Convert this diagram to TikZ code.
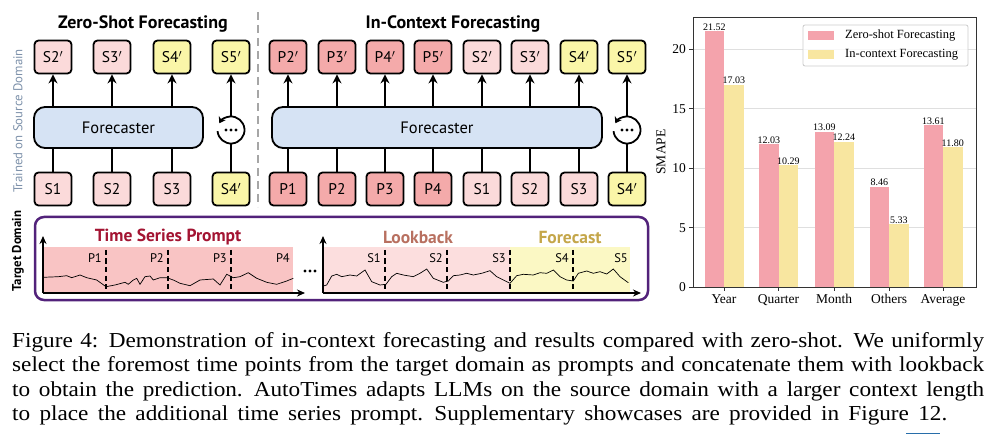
\documentclass[tikz,border=0pt]{standalone}
\usepackage{fontspec}
\setmainfont{Liberation Serif}
\newfontfamily\myr{PT Sans}
\newfontfamily\capfont{Liberation Serif}[FakeStretch=1.09, WordSpace=1.6]
\usetikzlibrary{arrows.meta,calc}
\definecolor{pdark}{RGB}{244,170,170}
\definecolor{plight}{RGB}{251,218,218}
\definecolor{yel}{RGB}{250,246,168}
\definecolor{fblue}{RGB}{214,227,244}
\definecolor{regpink}{RGB}{249,196,196}
\definecolor{reglight}{RGB}{252,222,222}
\definecolor{regyel}{RGB}{251,248,196}
\definecolor{tsred}{RGB}{163,20,50}
\definecolor{lbbrown}{RGB}{184,112,96}
\definecolor{fcgold}{RGB}{196,166,74}
\definecolor{purp}{RGB}{82,34,122}
\definecolor{srcgray}{RGB}{125,145,170}
\definecolor{barpink}{RGB}{244,163,172}
\definecolor{baryel}{RGB}{248,230,160}
\definecolor{linkblue}{RGB}{40,110,170}
\tikzset{
  bx/.style={draw=black, line width=1.8, rounded corners=4, minimum width=37, minimum height=33, inner sep=0, font=\myr\fontsize{15.5}{15.5}\selectfont},
  fc/.style={draw=black, line width=1.8, rounded corners=11, fill=fblue, minimum height=41, inner sep=0, font=\myr\fontsize{16.5}{16.5}\selectfont},
  arr/.style={line width=1.8, -{Stealth[length=9,width=9]}},
  ln/.style={line width=1.8},
  ttl/.style={font=\myr\bfseries\fontsize{18}{18}\selectfont},
  lbl/.style={font=\myr\fontsize{12.5}{12.5}\selectfont, anchor=east, inner sep=0},
  ax/.style={line width=1.8, -{Stealth[length=8,width=7]}},
  dsh/.style={line width=1.3, dash pattern=on 5 off 3.5},
  crv/.style={line width=0.7},
  capline/.style={anchor=base west, inner sep=0, font=\capfont\fontsize{21.3}{24.5}\selectfont},
  tk/.style={font=\fontsize{13.5}{13.5}\selectfont, inner sep=0},
  val/.style={font=\fontsize{10}{10}\selectfont, inner sep=0, anchor=south},
  dot/.style={circle, fill=black, inner sep=0, minimum size=3.2},
}
\begin{document}
\begin{tikzpicture}[x=1pt,y=-1pt]
\useasboundingbox (0,0) rectangle (987,446);
% ---------- titles ----------
\node[ttl] (t1) at (143,24) {Zero-Shot Forecasting};
\node[ttl] (t2) at (453,24) {In-Context Forecasting};
\coordinate (sepA) at (258,12);
\coordinate (sepB) at (258,207);
\draw[line width=2, gray!70, dash pattern=on 8 off 5] (sepA) -- (sepB);
\node[rotate=90, text=srcgray, font=\myr\fontsize{12.8}{12.8}\selectfont] (src) at (18,121) {Trained on Source Domain};
\node[rotate=90, font=\myr\bfseries\fontsize{12.8}{12.8}\selectfont] (tgt) at (18,251) {Target Domain};
% ---------- zero-shot ----------
\node[bx, fill=plight] (zo1) at (53,57) {S2$'$};
\node[bx, fill=plight] (zo2) at (112,57) {S3$'$};
\node[bx, fill=yel] (zo3) at (172,57) {S4$'$};
\node[bx, fill=yel] (zo4) at (231,57) {S5$'$};
\node[bx, fill=plight] (zi1) at (53,189) {S1};
\node[bx, fill=plight] (zi2) at (112,189) {S2};
\node[bx, fill=plight] (zi3) at (172,189) {S3};
\node[bx, fill=yel] (zi4) at (231,189) {S4$'$};
\node[fc, minimum width=169] (zf) at (118.5,127.5) {Forecaster};
\foreach \i in {1,2,3}{
  \draw[arr] (zo\i |- zf.north) -- (zo\i.south);
  \draw[ln] (zi\i.north) -- (zi\i |- zf.south);
}
\node[circle, minimum size=27, inner sep=0] (zl) at (231,130) {};
\foreach \dx in {-5,0,5}{\node[dot] at ([xshift=\dx]zl.center) {};}
\draw[line width=1.8, -{Stealth[length=6,width=8]}] ([shift={(175:13.5)}]zl.center) arc[start angle=175, end angle=-150, radius=13.5];
\draw[ln] (zi4.north) -- (zl.south);
\draw[arr] (zl.north) -- (zo4.south);
% ---------- in-context ----------
\foreach \n/\x/\t/\c in {1/288/P2/pdark, 2/337/P3/pdark, 3/385/P4/pdark, 4/433/P5/pdark, 5/482/S2/plight, 6/530/S3/plight, 7/579/S4/yel, 8/627/S5/yel}{
  \node[bx, fill=\c] (co\n) at (\x,57) {\t$'$};
}
\foreach \n/\x/\t/\c in {1/288/P1/pdark, 2/337/P2/pdark, 3/385/P3/pdark, 4/433/P4/pdark, 5/482/S1/plight, 6/530/S2/plight, 7/579/S3/plight, 8/627/S4$'$/yel}{
  \node[bx, fill=\c] (ci\n) at (\x,189) {\t};
}
\node[fc, minimum width=330] (cf) at (437,127.5) {Forecaster};
\foreach \i in {1,...,7}{
  \draw[arr] (co\i |- cf.north) -- (co\i.south);
  \draw[ln] (ci\i.north) -- (ci\i |- cf.south);
}
\node[circle, minimum size=27, inner sep=0] (cl) at (627,130) {};
\foreach \dx in {-5,0,5}{\node[dot] at ([xshift=\dx]cl.center) {};}
\draw[line width=1.8, -{Stealth[length=6,width=8]}] ([shift={(175:13.5)}]cl.center) arc[start angle=175, end angle=-150, radius=13.5];
\draw[ln] (ci8.north) -- (cl.south);
\draw[arr] (cl.north) -- (co8.south);
% ---------- target domain panel ----------
\draw[purp, line width=2.5, rounded corners=9] (35,217) rectangle (648,300);
\fill[regpink] (44,247) rectangle (293,292);
\fill[reglight] (324,247) rectangle (510,292);
\fill[regyel] (510,247) rectangle (630,292);
\node[font=\myr\bfseries\fontsize{17.5}{17.5}\selectfont, text=tsred] (tsp) at (168,237) {Time Series Prompt};
\node[font=\myr\bfseries\fontsize{17.5}{17.5}\selectfont, text=lbbrown] (lbk) at (418,237) {Lookback};
\node[font=\myr\bfseries\fontsize{17.5}{17.5}\selectfont, text=fcgold] (fct) at (570,237) {Forecast};
\foreach \x in {106,168,231}{\draw[dsh] (\x,250) -- (\x,293);}
\foreach \x in {385,447,510,573}{\draw[dsh] (\x,250) -- (\x,293);}
\node[lbl] at (102,258) {P1};
\node[lbl] at (164,258) {P2};
\node[lbl] at (227,258) {P3};
\node[lbl] at (290,258) {P4};
\node[lbl] at (381,258) {S1};
\node[lbl] at (443,258) {S2};
\node[lbl] at (506,258) {S3};
\node[lbl] at (569,258) {S4};
\node[lbl] at (628,258) {S5};
\draw[crv] (43.3,277.3) -- (58.3,276.7) -- (66.7,275.7) -- (71.7,277.7) -- (80,275) -- (86.7,277.7) -- (96.7,280) -- (106,286.7) -- (115,285) -- (125,282.3) -- (128.3,284.3) -- (133.3,280) -- (136.7,278.3) -- (140,284.3) -- (145,276.7) -- (150,276) -- (153.3,280) -- (160,277.7) -- (166.7,277.7) -- (173.3,280) -- (180,283.3) -- (190,285.7) -- (200,280) -- (213.3,279) -- (220,285) -- (226.7,274.3) -- (233.3,277.7) -- (240,276.7) -- (248.3,272.7) -- (256.7,278.3) -- (266.7,282.3) -- (276.7,284.3) -- (286.7,281) -- (293.3,278.3);
\draw[crv] (323.3,286) -- (326.7,285) -- (331.7,276) -- (336.7,274.3) -- (341.7,276.7) -- (350,275) -- (356.7,276) -- (365,270) -- (371.7,281.7) -- (380,285) -- (386,284.3) -- (391.7,276.7) -- (396.7,273.3) -- (403.3,275) -- (413.3,276.7) -- (420,273.3) -- (426.7,269) -- (433.3,278.3) -- (443.3,282.3) -- (448.3,281) -- (453.3,275.7) -- (460,275) -- (466.7,273.3) -- (473.3,275) -- (481.7,273.3) -- (490,270.7) -- (496.7,276.7) -- (503.3,280) -- (510,283.3) -- (516.7,275.7) -- (523.3,274.3) -- (533.3,275) -- (540,272.7) -- (546.7,273.3) -- (553.3,270) -- (560,276.7) -- (566.7,280) -- (573.3,281) -- (578.3,273.3) -- (586.7,271) -- (593.3,273.3) -- (600,271.7) -- (606.7,274) -- (613.3,269) -- (620,276.7) -- (628.3,282.7);
\coordinate (lo) at (43,293);
\coordinate (ly) at (43,236);
\coordinate (lx) at (305,293);
\draw[ax] (lo) -- (ly);
\draw[ax] (lo) -- (lx);
\coordinate (ro) at (323,293);
\coordinate (ry) at (323,236);
\coordinate (rx) at (641,293);
\draw[ax] (ro) -- (ry);
\draw[ax] (ro) -- (rx);
\coordinate (dots) at (310,271);
\foreach \dx in {-5,0,5}{\node[dot] at ([xshift=\dx]dots) {};}
% ---------- bar chart ----------
\foreach \v in {5,10,15,20}{\draw[gray!25, line width=0.8] (693,{287.3-11.9*\v}) -- (976,{287.3-11.9*\v});}
\foreach \c/\a/\b/\la/\lb in {724/21.52/17.03/21.52/17.03, 778.5/12.03/10.29/12.03/10.29, 834/13.09/12.24/13.09/12.24, 889/8.46/5.33/8.46/5.33, 943/13.61/11.80/13.61/11.80}{
  \fill[barpink] ({\c-19.5},287.3) rectangle (\c,{287.3-11.9*\a});
  \fill[baryel] (\c,287.3) rectangle ({\c+19.5},{287.3-11.9*\b});
  \node[val] at ({\c-9.75},{286.8-11.9*\a}) {\la};
  \node[val] at ({\c+9.75},{286.8-11.9*\b}) {\lb};
}
\draw[black!80, line width=1] (693,18) rectangle (976,287.3);
\foreach \v in {0,5,10,15,20}{
  \draw[black!80, line width=1] (693,{287.3-11.9*\v}) -- (689,{287.3-11.9*\v});
  \node[tk, anchor=east] at (686,{287.3-11.9*\v}) {\v};
}
\foreach \c/\t in {724/Year, 778.5/Quarter, 834/Month, 889/Others, 943/Average}{
  \draw[black!80, line width=1] (\c,287.3) -- (\c,291.3);
  \node[tk, anchor=base] at (\c,303) {\t};
}
\node[tk, rotate=90] (smape) at (661,152) {SMAPE};
\draw[gray!40, line width=0.8, rounded corners=2, fill=white, fill opacity=0.8] (803,25) rectangle (968,66);
\fill[barpink] (808,31) rectangle (834,40);
\fill[baryel] (808,50) rectangle (834,59);
\node[font=\fontsize{12.5}{12.5}\selectfont, anchor=west, inner sep=0] (lg1) at (845,35.5) {Zero-shot Forecasting};
\node[font=\fontsize{12.5}{12.5}\selectfont, anchor=west, inner sep=0] (lg2) at (845,54.5) {In-context Forecasting};
% ---------- caption ----------
\node[capline] (c1) at (12,347.3) {\makebox[972pt][s]{Figure 4: Demonstration of in-context forecasting and results compared with zero-shot. We uniformly}};
\node[capline] (c2) at (12,371.7) {\makebox[972pt][s]{select the foremost time points from the target domain as prompts and concatenate them with lookback}};
\node[capline] (c3) at (12,396) {\makebox[972pt][s]{to obtain the prediction. AutoTimes adapts LLMs on the source domain with a larger context length}};
\node[capline] (c4) at (12,420.3) {to place the additional time series prompt. Supplementary showcases are provided in Figure 12.};
\coordinate (ulA) at (906,433);
\coordinate (ulB) at (940,433);
\draw[linkblue, line width=1] (ulA) -- (ulB);
\end{tikzpicture}
\end{document}
